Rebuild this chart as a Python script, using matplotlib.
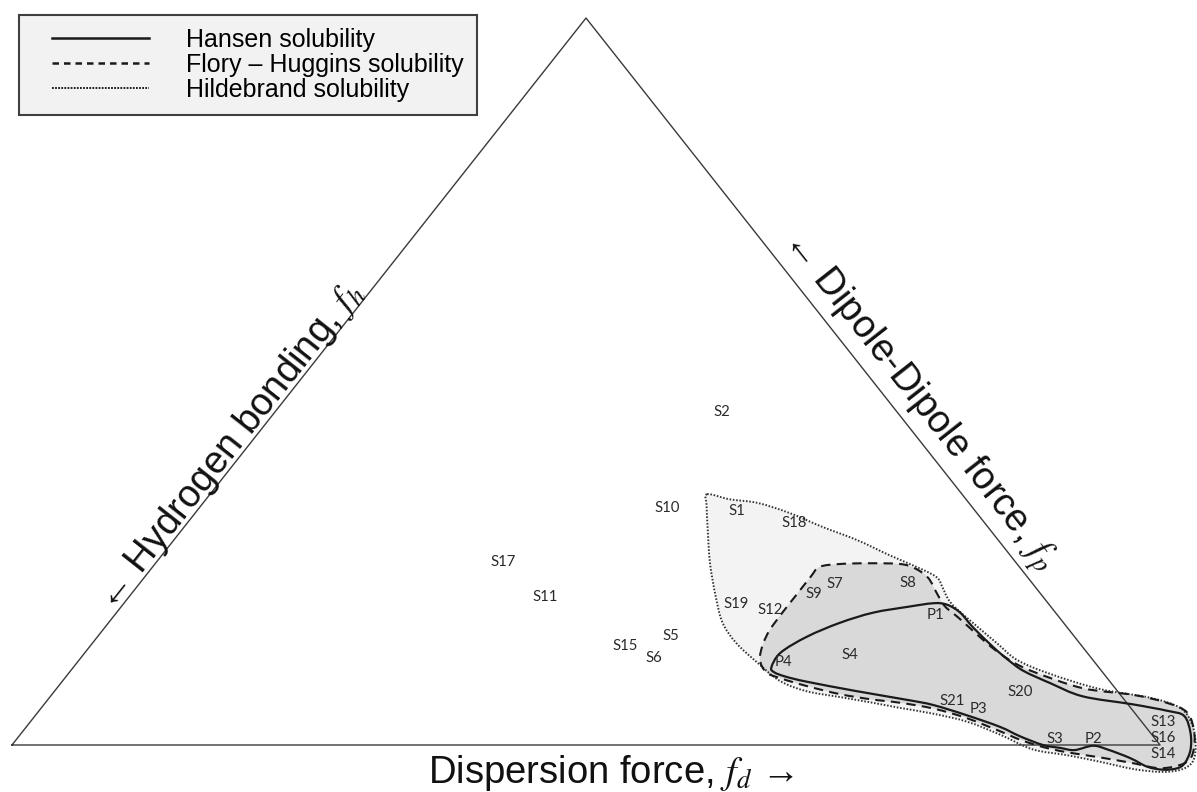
import matplotlib
matplotlib.use('Agg')
import matplotlib.pyplot as plt
from matplotlib.path import Path
from matplotlib.patches import PathPatch

plt.rcParams['mathtext.fontset'] = 'stix'

# Teas plot: fractional solubility parameters in %, fh = 100 - fd - fp
labels = ['S1', 'S2', 'S3', 'S4', 'S5', 'S6', 'S7', 'S8', 'S9', 'S10', 'S11',
          'S12', 'S13', 'S14', 'S15', 'S16', 'S17', 'S18', 'S19', 'S20', 'S21',
          'P1', 'P2', 'P3', 'P4']
label_fd = [47.0, 38.9, 90.4, 66.8, 49.9, 49.9, 60.6, 66.9, 59.4, 40.8, 36.2,
            56.7, 98.7, 100.9, 46.6, 99.8, 30.2, 52.9, 53.4, 84.2, 78.8,
            71.5, 93.8, 81.7, 61.5]
label_fp = [32.2, 45.8, 0.8, 12.4, 15.0, 12.0, 22.1, 22.3, 20.8, 32.6, 20.4,
            18.6, 3.2, -1.2, 13.6, 1.0, 25.2, 30.5, 19.4, 7.3, 6.1,
            17.9, 0.8, 5.0, 11.4]

# solubility regions (outlines)
hildebrand_fd = [43.3, 45.6, 48.3, 51.8, 55.6, 59.5, 63.4, 67.3, 69.1, 70.2, 71.4,
                 72.6, 75.3, 78.8, 81.7, 85.5, 90.9, 95.9, 99.2, 101.4, 103.1,
                 104.0, 103.5, 101.9, 99.3, 95.9, 92.6, 89.2, 85.4, 81.6, 78.1,
                 74.8, 72.1, 68.8, 65.5, 62.5, 59.3, 56.1, 53.5, 51.1, 48.3, 45.8, 44.0]
hildebrand_fp = [34.5, 33.8, 33.3, 31.9, 30.0, 28.2, 26.1, 24.1, 23.0, 21.7, 20.2,
                 19.0, 16.8, 14.0, 11.7, 9.8, 7.7, 6.5, 5.1, 2.8, 0.0,
                 -2.3, -3.4, -3.7, -3.3, -2.3, -1.4, -0.6, 1.4, 3.2, 4.3,
                 5.1, 5.8, 6.6, 7.4, 8.8, 11.3, 14.0, 16.8, 20.4, 25.0, 29.6, 33.0]

flory_fd = [58.0, 58.1, 59.7, 62.2, 64.9, 66.5, 68.3, 70.1, 71.7, 73.7, 76.1,
            78.8, 81.5, 84.1, 89.4, 94.2, 97.7, 100.2, 102.3, 103.5, 103.3,
            101.6, 98.9, 95.6, 92.4, 90.0, 87.5, 85.1, 81.3, 77.8, 74.5,
            71.6, 68.6, 65.2, 62.3, 60.7, 59.3, 58.5, 58.1, 58.0, 58.0]
flory_fp = [23.1, 24.5, 24.9, 25.0, 24.9, 24.3, 23.0, 20.9, 19.1, 17.5, 15.5,
            13.3, 11.4, 10.0, 7.8, 6.9, 5.8, 4.4, 1.4, -1.4, -2.6,
            -3.2, -2.5, -1.7, -1.0, -0.3, 0.7, 1.9, 3.7, 5.0, 5.8,
            6.3, 7.0, 8.1, 9.2, 10.0, 11.7, 13.8, 15.8, 18.3, 20.8]

hansen_fd = [60.8, 60.6, 61.8, 63.7, 65.9, 68.5, 70.5, 71.8, 73.5, 75.6, 78.7,
             80.8, 83.0, 86.2, 89.9, 94.8, 98.3, 100.1, 101.8, 103.0, 103.4,
             103.1, 102.0, 100.4, 98.3, 95.7, 94.2, 92.9, 91.5, 89.8, 87.2,
             84.8, 81.1, 77.5, 74.9, 69.9, 64.9, 62.7, 61.4]
hansen_fp = [10.7, 12.7, 14.9, 16.8, 18.2, 19.0, 19.5, 19.3, 18.2, 16.2, 13.5,
             11.8, 10.2, 8.5, 6.7, 5.6, 4.7, 4.0, 1.7, -0.7, -2.5,
             -3.2, -3.4, -3.0, -1.8, -0.6, -0.1, -0.7, -0.4, 0.0, 1.2,
             2.5, 4.1, 5.5, 6.2, 7.4, 8.7, 9.4, 10.0]

# triangle corners: fh = 100, fp = 100, fd = 100
corner_fd = [0, 0, 100, 0]
corner_fp = [0, 100, 0, 0]


def to_xy(fd, fp):
    # ternary -> cartesian, fd grows to the right corner, fp to the top corner
    x = [d + p / 2 for d, p in zip(fd, fp)]
    return x, list(fp)


def smooth_closed_path(fd, fp):
    # closed bezier through the read points (catmull-rom style handles)
    x, y = to_xy(fd, fp)
    n = len(x)
    verts = [(x[0], y[0])]
    codes = [Path.MOVETO]
    for i in range(n):
        p0, p1, p2, p3 = (i - 1) % n, i, (i + 1) % n, (i + 2) % n
        c1 = (x[p1] + (x[p2] - x[p0]) / 6, y[p1] + (y[p2] - y[p0]) / 6)
        c2 = (x[p2] - (x[p3] - x[p1]) / 6, y[p2] - (y[p3] - y[p1]) / 6)
        verts += [c1, c2, (x[p2], y[p2])]
        codes += [Path.CURVE4] * 3
    return Path(verts, codes)


fig = plt.figure(figsize=(11.97, 7.92), dpi=100)
ax = fig.add_axes([0, 0, 1, 1])
ax.set_xlim(-1.045, 103.22)
ax.set_ylim(-6.465, 102.48)
ax.axis('off')

ink = '#1a1a1a'
hild_path = smooth_closed_path(hildebrand_fd, hildebrand_fp)
flory_path = smooth_closed_path(flory_fd, flory_fp)
hansen_path = smooth_closed_path(hansen_fd, hansen_fp)

# fills
ax.add_patch(PathPatch(hild_path, facecolor='#f3f3f3', edgecolor='none', zorder=1))
ax.add_patch(PathPatch(flory_path, facecolor='#d9d9d9', edgecolor='none', zorder=2))
ax.add_patch(PathPatch(hansen_path, facecolor='#d9d9d9', edgecolor='none', zorder=2))

# triangle
x, y = to_xy(corner_fd, corner_fp)
ax.plot(x, y, color='#3a3a3a', lw=1.0, zorder=3)

# outlines
ax.add_patch(PathPatch(hild_path, facecolor='none', edgecolor='#333333', lw=1.4,
                       ls=(0, (0.8, 0.9)), zorder=4))
ax.add_patch(PathPatch(flory_path, facecolor='none', edgecolor=ink, lw=1.5,
                       ls=(0, (4.5, 3)), zorder=5))
ax.add_patch(PathPatch(hansen_path, facecolor='none', edgecolor=ink, lw=1.6,
                       ls='-', zorder=6))

# legend entries
ax.plot([], [], color=ink, lw=1.8, ls='-', label='Hansen solubility')
ax.plot([], [], color=ink, lw=1.8, ls=(0, (2.6, 2.0)), label='Flory – Huggins solubility')
ax.plot([], [], color=ink, lw=1.4, ls=(0, (0.9, 0.7)), label='Hildebrand solubility')

# point labels
x, y = to_xy(label_fd, label_fp)
for name, xi, yi in zip(labels, x, y):
    ax.text(xi, yi, name, ha='center', va='center', fontsize=10.7,
            family='Lato', color='#2a2a2a', zorder=7)

leg = ax.legend(loc='upper left',
                bbox_to_anchor=(19 / 1197, 1 - 15 / 792), bbox_transform=fig.transFigure,
                borderaxespad=0, fancybox=False, framealpha=1, facecolor='#f2f2f2',
                edgecolor='#404040', handlelength=4.7, handletextpad=1.5,
                borderpad=0.5, labelspacing=0.05,
                prop={'family': ['Liberation Sans', 'DejaVu Sans'], 'size': 18})
leg.get_frame().set_linewidth(1.5)
for ln in leg.get_lines():
    xd = list(ln.get_xdata())
    xd[0] = xd[0] + 15
    ln.set_xdata(xd)

# axis titles
label_font = {'family': ['Liberation Sans', 'DejaVu Sans'], 'size': 27.5, 'color': '#111111'}
fig.text(611 / 1197, 1 - 783 / 792, 'Dispersion force, $f_d$ →',
         ha='center', va='baseline', **label_font)
fig.text(230 / 1197, 1 - 446 / 792, '← Hydrogen bonding, $f_h$', rotation=51.7,
         rotation_mode='anchor', ha='center', va='center', **label_font)
fig.text(918 / 1197, 1 - 401 / 792, '← Dipole-Dipole force, $f_p$', rotation=-51.8,
         rotation_mode='anchor', ha='center', va='center', **label_font)

fig.savefig('out.png', dpi=100)
